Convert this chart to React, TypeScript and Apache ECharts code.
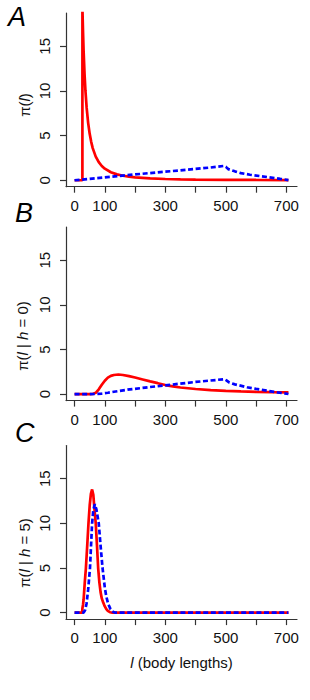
import React, { useEffect, useRef } from 'react';
import * as echarts from 'echarts';

// Tick values
const xTicks = [0, 100, 200, 300, 400, 500, 600, 700];
const xTickLabels = [0, 100, 300, 500, 700];
const yTicks = [0, 5, 10, 15];

// Panel A: pi(l)
const redA_l = [0, 25.9, 26, 28, 30, 33, 36, 40, 45, 50, 55, 60, 70, 80, 90, 100, 120, 140, 160, 180, 200, 250, 300, 350, 400, 500, 600, 707];
const redA_v = [0, 0, 19.2, 16.6, 14.4, 11.9, 10.0, 8.1, 6.4, 5.2, 4.3, 3.6, 2.65, 2.03, 1.6, 1.3, 0.9, 0.66, 0.51, 0.4, 0.33, 0.21, 0.145, 0.106, 0.08, 0.052, 0.036, 0.026];
const blueA_l = [0, 100, 200, 300, 350, 400, 450, 492, 500, 508, 530, 550, 580, 613, 650, 680, 707];
const blueA_v = [0, 0.32, 0.65, 0.97, 1.1, 1.27, 1.43, 1.6, 1.5, 1.25, 1.0, 0.8, 0.62, 0.47, 0.3, 0.15, 0.02];

// Panel B: pi(l | h = 0)
const redB_l = [0, 50, 60, 70, 80, 90, 100, 110, 120, 130, 145, 160, 180, 200, 225, 250, 275, 300, 325, 350, 400, 450, 500, 550, 600, 650, 707];
const redB_v = [0, 0, 0.02, 0.15, 0.55, 1.05, 1.5, 1.85, 2.05, 2.15, 2.2, 2.15, 2.02, 1.87, 1.65, 1.43, 1.23, 1.02, 0.88, 0.75, 0.58, 0.45, 0.37, 0.31, 0.26, 0.22, 0.19];
const blueB_l = [0, 50, 70, 90, 110, 130, 150, 175, 200, 250, 300, 350, 400, 450, 495, 502, 512, 530, 570, 600, 635, 670, 707];
const blueB_v = [0, 0, 0.02, 0.07, 0.16, 0.27, 0.37, 0.5, 0.6, 0.8, 0.98, 1.18, 1.37, 1.53, 1.68, 1.55, 1.3, 1.1, 0.78, 0.6, 0.4, 0.2, 0.02];

// Panel C: pi(l | h = 5)
const redC_l = [0, 25, 26, 28, 30, 34, 37.5, 42, 46, 50, 54, 58, 62, 66, 70, 74, 78, 82, 86, 90, 95, 100, 105, 110, 117, 125, 707];
const redC_v = [0, 0, 0.5, 0.9, 1.5, 3.5, 5.0, 7.6, 10.0, 12.0, 13.3, 13.8, 13.2, 11.5, 10.0, 7.6, 5.0, 3.4, 2.3, 1.6, 1.1, 0.7, 0.4, 0.2, 0.05, 0, 0];
const blueC_l = [0, 30, 35, 39.5, 45, 51, 55, 58, 62, 67, 72, 76, 80, 86, 92.5, 100, 105, 111, 118, 125, 133, 707];
const blueC_v = [0, 0, 0.3, 1.0, 2.6, 5.0, 7.9, 10.0, 11.5, 12.15, 11.6, 10.8, 10.0, 7.5, 5.0, 2.8, 1.8, 1.0, 0.45, 0.15, 0, 0];

const zip = (ls: number[], vs: number[]) => ls.map((l, i) => [l, vs[i]]);

const FONT = "'Liberation Sans', Arial, Helvetica, sans-serif";
const AXIS_COLOR = '#333';
const TEXT_COLOR = '#111';

export default function App() {
  const ref = useRef<HTMLDivElement>(null);
  useEffect(() => {
    if (!ref.current) return;
    const chart = echarts.init(ref.current, null, { renderer: 'svg' });
    const tops = [13.1, 227, 445.5];
    const grid = tops.map((t) => ({ left: 66, width: 231, top: t, height: 173.6 }));
    const xAxis = tops.map((_, i) => ({
      gridIndex: i,
      type: 'value',
      min: -28.3,
      max: 735.3,
      axisLine: { show: true, onZero: false, lineStyle: { color: AXIS_COLOR, width: 1.2 } },
      axisTick: { show: true, length: 6, customValues: xTicks, lineStyle: { color: AXIS_COLOR, width: 1.2 } },
      axisLabel: { customValues: xTickLabels, fontSize: 15, color: TEXT_COLOR, fontFamily: FONT, margin: 11 },
      splitLine: { show: false },
      ...(i === 2
        ? {
            name: '{i|l} (body lengths)',
            nameLocation: 'middle',
            nameGap: 36,
            nameTextStyle: {
              fontSize: 15,
              color: TEXT_COLOR,
              fontFamily: FONT,
              rich: { i: { fontStyle: 'italic', fontSize: 15, color: TEXT_COLOR, fontFamily: FONT } },
            },
          }
        : {}),
    }));
    const yAxis = tops.map((_, i) => ({
      gridIndex: i,
      type: 'value',
      min: -0.72,
      max: 18.72,
      axisLine: { show: true, onZero: false, lineStyle: { color: AXIS_COLOR, width: 1.2 } },
      axisTick: { show: true, length: 6, customValues: yTicks, lineStyle: { color: AXIS_COLOR, width: 1.2 } },
      axisLabel: { customValues: yTicks, rotate: 90, fontSize: 15, color: TEXT_COLOR, fontFamily: FONT, margin: 14 },
      splitLine: { show: false },
    }));
    const mk = (i: number, data: number[][], color: string, dashed: boolean) => ({
      type: 'line',
      xAxisIndex: i,
      yAxisIndex: i,
      data,
      symbol: 'none',
      showSymbol: false,
      clip: true,
      lineStyle: { color, width: 2.7, type: dashed ? [5, 2.6] : 'solid', cap: 'butt' },
      emphasis: { disabled: true },
    });
    const series = [
      mk(0, zip(redA_l, redA_v), '#ff0000', false),
      mk(0, zip(blueA_l, blueA_v), '#0000ff', true),
      mk(1, zip(redB_l, redB_v), '#ff0000', false),
      mk(1, zip(blueB_l, blueB_v), '#0000ff', true),
      mk(2, zip(redC_l, redC_v), '#ff0000', false),
      mk(2, zip(blueC_l, blueC_v), '#0000ff', true),
    ];
    const richI = { i: { fontStyle: 'italic', fontSize: 15, fill: TEXT_COLOR, color: TEXT_COLOR, fontFamily: FONT } };
    const yTitle = (text: string, x: number, y: number) => ({
      type: 'text',
      x,
      y,
      rotation: Math.PI / 2,
      style: {
        text,
        rich: richI,
        fontSize: 15,
        fontFamily: FONT,
        fill: TEXT_COLOR,
        textAlign: 'center',
        textVerticalAlign: 'middle',
        align: 'center',
        verticalAlign: 'middle',
      },
    });
    const letter = (text: string, x: number, y: number) => ({
      type: 'text',
      x,
      y,
      style: {
        text,
        fontSize: 27,
        fontStyle: 'italic',
        fontFamily: FONT,
        fill: '#000',
        textAlign: 'left',
        textVerticalAlign: 'middle',
        align: 'left',
        verticalAlign: 'middle',
      },
    });
    chart.setOption({
      animation: false,
      grid,
      xAxis,
      yAxis,
      series,
      graphic: [
        letter('A', 8, 16.5),
        letter('B', 15, 213),
        letter('C', 15, 432.5),
        yTitle('π({i|l})', 24, 105),
        yTitle('π({i|l} | {i|h} = 0)', 22, 336),
        yTitle('π({i|l} | {i|h} = 5)', 24, 553),
      ],
    });
    return () => chart.dispose();
  }, []);
  return (
    <div
      ref={ref}
      style={{ position: 'absolute', left: 0, top: 0, width: 310, height: 700, background: '#fff' }}
    />
  );
}
